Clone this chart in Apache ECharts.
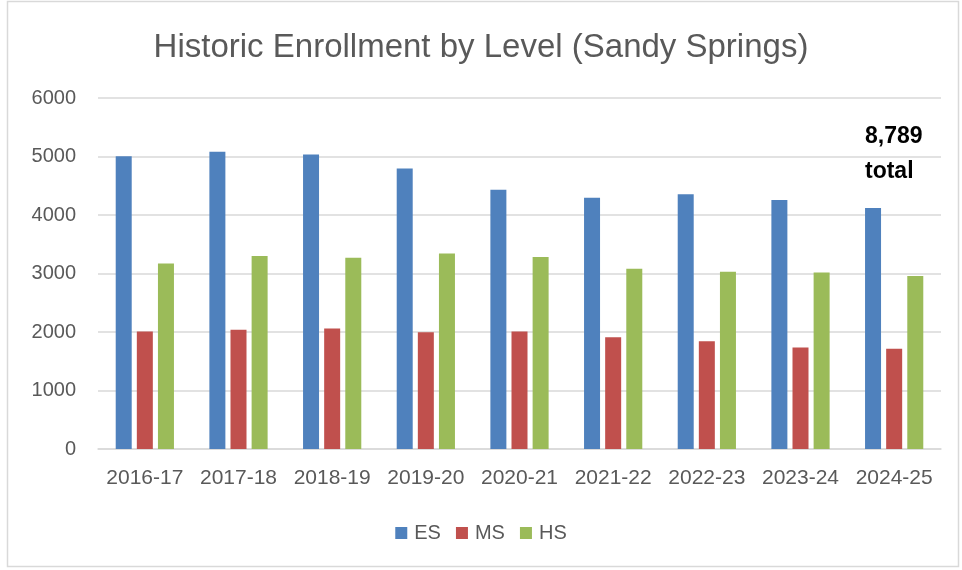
<!DOCTYPE html>
<html>
<head>
<meta charset="utf-8">
<title>Historic Enrollment by Level</title>
<script src="https://cdn.jsdelivr.net/npm/echarts@6/dist/echarts.min.js"></script>
<style>
  html, body { margin: 0; padding: 0; background: #fff; }
  #chart { width: 962px; height: 570px; }
</style>
</head>
<body>
<div id="chart"></div>
<script>
// school years on the x axis
const years = ['2016-17', '2017-18', '2018-19', '2019-20', '2020-21', '2021-22', '2022-23', '2023-24', '2024-25'];
// enrollment per level
const esData = [5005, 5080, 5035, 4795, 4430, 4295, 4355, 4255, 4120];
const msData = [2010, 2040, 2060, 1995, 2010, 1910, 1840, 1735, 1713];
const hsData = [3170, 3300, 3270, 3340, 3280, 3080, 3030, 3015, 2956];
const totalText = ['8,789', 'total'];

const colors = ['#4f81bd', '#c0504d', '#9bbb59'];
const font = 'Liberation Sans';

const chart = echarts.init(document.getElementById('chart'));

function bar(name, data, i) {
  return {
    name: name,
    type: 'bar',
    data: data,
    barWidth: 16,
    barGap: '32%',
    itemStyle: { color: colors[i] },
    animation: false,
  };
}

const option = {
  title: {
    text: 'Historic Enrollment by Level (Sandy Springs)',
    left: 'center',
    top: 26,
    textStyle: { fontFamily: font, fontSize: 33, fontWeight: 'normal', color: '#595959' },
  },
  legend: {
    bottom: 22,
    left: 'center',
    itemWidth: 12,
    itemHeight: 12,
    itemGap: 15,
    icon: 'rect',
    textStyle: { fontFamily: font, fontSize: 20, color: '#595959', padding: [0, 0, 0, 2] },
    data: ['ES', 'MS', 'HS'],
  },
  grid: { left: 98, right: 21, top: 98, bottom: 121 },
  xAxis: {
    type: 'category',
    data: years,
    axisLine: { lineStyle: { color: '#d9d9d9', width: 1.5 } },
    axisTick: { show: false },
    axisLabel: { interval: 0, fontFamily: font, fontSize: 21, color: '#595959', margin: 19 },
  },
  yAxis: {
    type: 'value',
    min: 0,
    max: 6000,
    interval: 1000,
    axisLine: { show: false },
    axisTick: { show: false },
    splitLine: { lineStyle: { color: '#d9d9d9', width: 1.5 } },
    axisLabel: {
      fontFamily: font,
      fontSize: 20,
      color: '#595959',
      margin: 22,
      formatter: (v) => String(v),
    },
  },
  graphic: [
    {
      type: 'rect',
      shape: { x: 7.5, y: 1.5, width: 951, height: 565 },
      style: { fill: 'none', stroke: '#d9d9d9', lineWidth: 1.5 },
      silent: true,
    },
    {
      type: 'text',
      left: 865,
      top: 119,
      style: {
        text: totalText.join('\n'),
        fontFamily: font,
        fontSize: 23,
        fontWeight: 'bold',
        lineHeight: 35,
        fill: '#000',
      },
    },
  ],
  series: [bar('ES', esData, 0), bar('MS', msData, 1), bar('HS', hsData, 2)],
};

chart.setOption(option);
</script>
</body>
</html>
